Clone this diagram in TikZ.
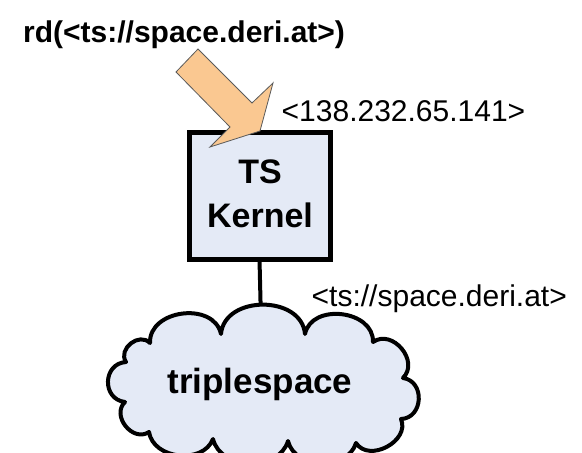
\documentclass[tikz,border=0pt]{standalone}
\usepackage{fontspec}
\setmainfont{Liberation Sans}
\definecolor{boxfill}{RGB}{228,234,246}
\definecolor{arrowfill}{RGB}{250,200,145}
\definecolor{arrowline}{RGB}{90,90,90}
\begin{document}
\begin{tikzpicture}[x=1pt,y=-1pt,
  lbl/.style={inner sep=0pt,font=\fontsize{30}{32}\selectfont},
  blbl/.style={inner sep=0pt,font=\fontsize{30}{32}\selectfont\bfseries},
  kernelbox/.style={draw=black,line width=5pt,fill=boxfill},
  cloudline/.style={draw=black,line width=4pt,fill=boxfill,line join=round},
  link/.style={draw=black,line width=4pt}]
\useasboundingbox (0,0) rectangle (582,453);
% kernel box
\path[kernelbox] (189,132) rectangle (330,259);
\node[inner sep=0pt,minimum width=141pt,minimum height=127pt] (kernel) at (259.5,195.5) {};
\node[blbl,font=\fontsize{34}{36}\selectfont\bfseries,anchor=base] (ts) at (260,183) {TS};
\node[blbl,font=\fontsize{34}{36}\selectfont\bfseries,anchor=base] (kn) at (260,227) {Kernel};
% anchor for cloud
\node[inner sep=0pt,minimum width=300pt,minimum height=120pt] (cloud) at (261,382) {};
% connector (under the cloud)
\draw[link] (kernel.south) -- (cloud.north);
% cloud
\coordinate (v1) at (150,343);
\coordinate (v2) at (221,334);
\coordinate (v3) at (305,334);
\coordinate (v4) at (373,342);
\coordinate (v5) at (403,378);
\coordinate (v6) at (401,419);
\coordinate (v7) at (356,443);
\coordinate (v8) at (288,441);
\coordinate (v9) at (213,439);
\coordinate (v10) at (149,432);
\coordinate (v11) at (125,402);
\coordinate (v12) at (126,362);
\path[cloudline] (v1) to[bend left=85,looseness=1.2] (v2)
  to[bend left=85,looseness=1.2] (v3)
  to[bend left=85,looseness=1.2] (v4)
  to[bend left=85,looseness=1.3] (v5)
  to[bend left=85,looseness=1.4] (v6)
  to[bend left=85,looseness=1.2] (v7)
  to[bend left=75,looseness=1.1] (v8)
  to[bend left=75,looseness=1.1] (v9)
  to[bend left=75,looseness=1.1] (v10)
  to[bend left=85,looseness=1.3] (v11)
  to[bend left=85,looseness=1.5] (v12)
  to[bend left=85,looseness=1.3] (v1) -- cycle;
\node[blbl,font=\fontsize{35}{38}\selectfont\bfseries,anchor=base] (ttl) at (260,393) {triplespace};
% arrow
\path[draw=arrowline,fill=arrowfill,line width=0.8pt,line join=miter]
  (176,72) -- (198,49) -- (252,103) -- (273,83) -- (260,131) -- (210,147) -- (230,127) -- cycle;
% labels
\node[blbl,anchor=base west] (cmd) at (23,42) {rd(<ts://space.deri.at>)};
\node[lbl,anchor=base west] (ip) at (281.5,121.5) {<138.232.65.141>};
\node[lbl,anchor=base west] (url) at (311.5,306) {<ts://space.deri.at>};
\end{tikzpicture}
\end{document}
